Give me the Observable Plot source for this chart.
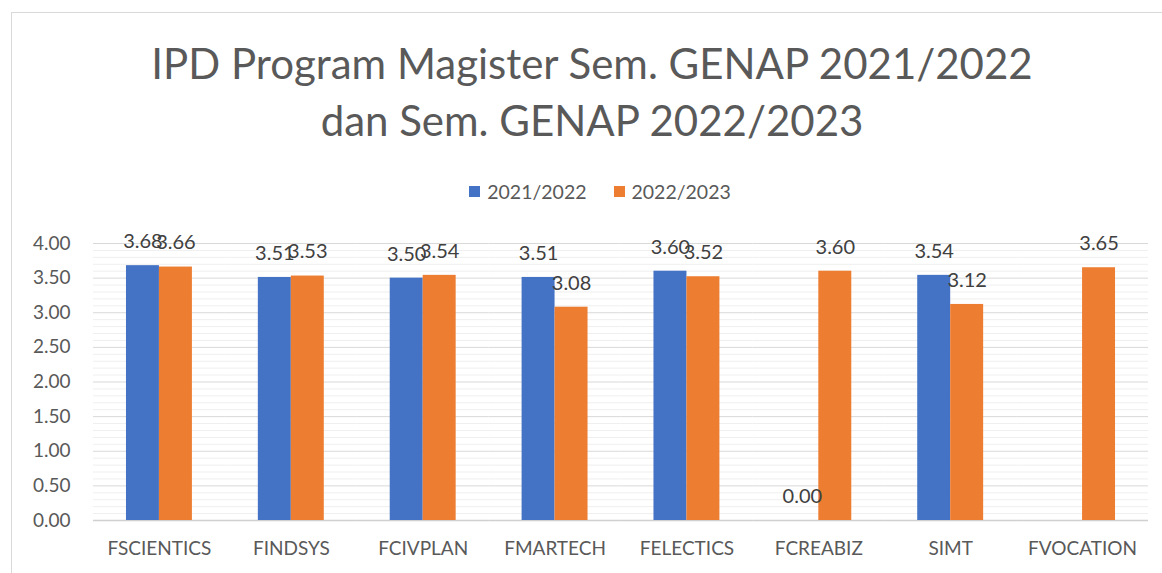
<!DOCTYPE html>
<html>
<head>
<meta charset="utf-8">
<script src="https://cdn.jsdelivr.net/npm/d3@7"></script>
<script src="https://cdn.jsdelivr.net/npm/@observablehq/plot@0.6"></script>
<style>
  html, body { margin: 0; padding: 0; background: #fff; }
  body { width: 1162px; height: 573px; position: relative; overflow: hidden; font-family: Lato, "Open Sans", sans-serif; }
  #frame { position: absolute; left: 11px; top: 12px; width: 1200px; height: 700px; border: 1px solid #d9d9d9; box-sizing: border-box; }
  #title { position: absolute; left: 0; top: 35px; width: 1184px; text-align: center; font-size: 42px; line-height: 57px; color: #595959; }
  #legend { position: absolute; left: 0; top: 180px; width: 1200px; display: flex; justify-content: center; gap: 27px; font-size: 19.5px; color: #595959; }
  #legend span.item { display: flex; align-items: center; gap: 7px; }
  #legend span.sw { display: inline-block; width: 11px; height: 11px; }
  #chart { position: absolute; left: 0; top: 230px; }
</style>
</head>
<body>
<div id="frame"></div>
<div id="title">IPD Program Magister Sem. GENAP 2021/2022<br>dan Sem. GENAP 2022/2023</div>
<div id="legend"></div>
<div id="chart"></div>
<script>
const categories = ["FSCIENTICS", "FINDSYS", "FCIVPLAN", "FMARTECH", "FELECTICS", "FCREABIZ", "SIMT", "FVOCATION"];
const seriesNames = ["2021/2022", "2022/2023"];
const values2122 = [3.68, 3.51, 3.50, 3.51, 3.60, 0.00, 3.54, null];
const values2223 = [3.66, 3.53, 3.54, 3.08, 3.52, 3.60, 3.12, 3.65];
const yTicks = [0, 0.5, 1, 1.5, 2, 2.5, 3, 3.5, 4];
const yMinorTicks = d3.range(1, 40).map(d => d / 10).filter(d => Math.round(d * 10) % 5 !== 0);
const colors = ["#4472c4", "#ed7d31"];

const rows = categories.flatMap((c, i) => [
  {cat: c, series: seriesNames[0], value: values2122[i]},
  {cat: c, series: seriesNames[1], value: values2223[i]}
]).filter(d => d.value != null);

// legend
const legend = document.getElementById("legend");
seriesNames.forEach((s, i) => {
  const item = document.createElement("span");
  item.className = "item";
  const sw = document.createElement("span");
  sw.className = "sw";
  sw.style.background = colors[i];
  item.appendChild(sw);
  item.appendChild(document.createTextNode(s));
  legend.appendChild(item);
});

const chart = Plot.plot({
  width: 1162,
  height: 343,
  marginLeft: 93,
  marginRight: 14,
  marginTop: 13,
  marginBottom: 53,
  style: {fontFamily: "Lato, 'Open Sans', sans-serif", background: "transparent", overflow: "visible"},
  fx: {domain: categories, padding: 0, round: false, label: null},
  x: {domain: seriesNames, paddingInner: 0, paddingOuter: 1, round: false, axis: null},
  y: {domain: [0, 4], axis: null},
  color: {domain: seriesNames, range: colors},
  marks: [
    Plot.gridY({ticks: yMinorTicks, stroke: "#efefef", strokeOpacity: 1}),
    Plot.gridY({ticks: yTicks, stroke: "#d9d9d9", strokeOpacity: 1}),
    Plot.ruleY([0], {stroke: "#d0d0d0", strokeWidth: 1.5}),
    Plot.barY(rows, {fx: "cat", x: "series", y: "value", fill: "series"}),
    Plot.text(rows, {fx: "cat", x: "series", y: "value", text: d => d.value.toFixed(2), dy: -24, fontSize: 20, fill: "#404040"}),
    Plot.axisY({ticks: yTicks, tickFormat: d => d.toFixed(2), tickSize: 0, tickPadding: 23, fontSize: 19, color: "#595959", label: null}),
    Plot.axisFx({anchor: "bottom", tickSize: 0, tickPadding: 21, fontSize: 19, color: "#595959", label: null})
  ]
});
document.getElementById("chart").appendChild(chart);
</script>
</body>
</html>
